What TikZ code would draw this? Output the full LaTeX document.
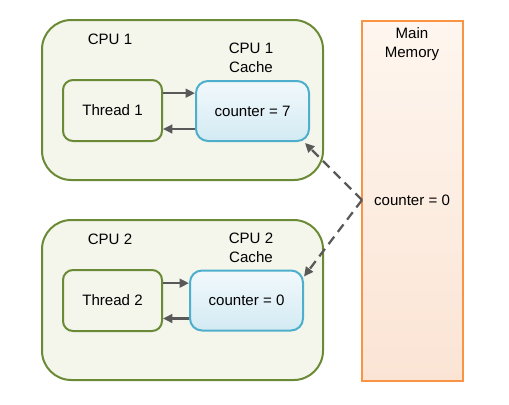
\documentclass[tikz,border=0pt]{standalone}
\usepackage{fontspec}
\setmainfont{Liberation Sans}
\usetikzlibrary{arrows.meta}
\definecolor{olive}{HTML}{6A8A35}
\definecolor{cpufill}{HTML}{F4F6EC}
\definecolor{cachedraw}{HTML}{4DAFCB}
\definecolor{cachetop}{HTML}{F2F9FC}
\definecolor{cachebot}{HTML}{D3EAF3}
\definecolor{memdraw}{HTML}{FA9445}
\definecolor{memtop}{HTML}{FEF6EF}
\definecolor{membot}{HTML}{FBE4D4}
\definecolor{arrgray}{HTML}{595959}
\begin{document}
\begin{tikzpicture}[x=0.75pt,y=-0.75pt,
  every node/.style={font=\fontsize{11.3}{14.2}\selectfont, inner sep=0pt, align=center},
  cpubox/.style={draw=olive, line width=1.5pt, fill=cpufill, rounded corners=22pt,
    minimum width=210.75pt, minimum height=120pt},
  threadbox/.style={draw=olive, line width=1.5pt, fill=cpufill, rounded corners=7.5pt,
    minimum width=74.25pt, minimum height=45.75pt},
  cachebox/.style={draw=cachedraw, line width=1.5pt, top color=cachetop, bottom color=cachebot,
    rounded corners=9pt, minimum width=84.75pt, minimum height=45pt},
  membox/.style={draw=memdraw, line width=1.5pt, top color=memtop, bottom color=membot,
    minimum width=75.75pt, minimum height=270pt},
  arr/.style={draw=arrgray, line width=1.7pt, -{Triangle[length=7pt,width=6.5pt]}},
  darr/.style={arr, dash pattern=on 7pt off 4.5pt},
]
\useasboundingbox (0,0) rectangle (509,404);
% CPU 1
\node[cpubox] (cpu1) at (182.5,100) {};
\node (cpu1lbl) at (110,39) {CPU 1};
\node (cache1lbl) at (251,57.5) {CPU 1\\Cache};
\node[threadbox] (thread1) at (112.5,110.5) {Thread 1};
\node[cachebox] (cache1) at (252.5,111) {counter = 7};
% CPU 2
\node[cpubox] (cpu2) at (182.5,300) {};
\node (cpu2lbl) at (110,239) {CPU 2};
\node (cache2lbl) at (251,248) {CPU 2\\Cache};
\node[threadbox] (thread2) at (112.5,300.5) {Thread 2};
\node[cachebox] (cache2) at (246.5,300.5) {counter = 0};
% Memory
\node[membox] (mem) at (412.5,201) {};
\node (memlbl) at (412,44) {Main\\Memory};
\node (memval) at (412,200) {counter = 0};
\coordinate (memsrc) at (362,200);
% arrows
\draw[arr] ([yshift=13pt]thread1.east) -- ([yshift=13pt]thread1.east -| cache1.west);
\draw[arr] ([yshift=-13.5pt]cache1.west) -- ([yshift=-13.5pt]cache1.west -| thread1.east);
\draw[arr] ([yshift=13pt]thread2.east) -- ([yshift=13pt]thread2.east -| cache2.west);
\draw[arr] ([yshift=-13.5pt]cache2.west) -- ([yshift=-13.5pt]cache2.west -| thread2.east);
\draw[darr] (memsrc) -- ([shift={(-5,1)}]cache1.south east);
\draw[darr] (memsrc) -- ([shift={(0,7)}]cache2.north east);
\end{tikzpicture}
\end{document}
